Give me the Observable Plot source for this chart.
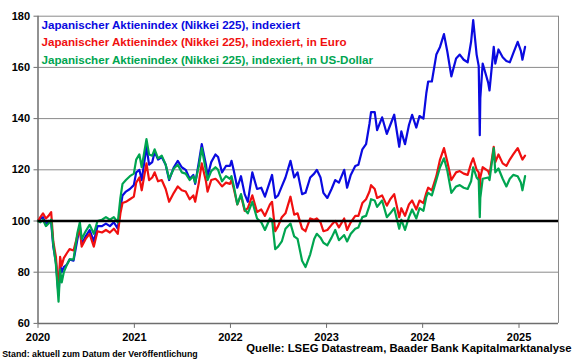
<!DOCTYPE html>
<html>
<head>
<meta charset="utf-8">
<script src="https://cdn.jsdelivr.net/npm/d3@7"></script>
<script src="https://cdn.jsdelivr.net/npm/@observablehq/plot@0.6"></script>
<style>
  html, body { margin: 0; padding: 0; background: #fff; }
</style>
</head>
<body>
<div id="chart"></div>
<script>
// ---- data ----
const dates = [
  "2020-01-01","2020-01-10","2020-01-20","2020-01-31","2020-02-10","2020-02-20","2020-02-28","2020-03-09","2020-03-19","2020-03-25","2020-03-31",
  "2020-04-08","2020-04-20","2020-04-30","2020-05-15","2020-05-29","2020-06-08","2020-06-15","2020-06-30","2020-07-15","2020-07-31",
  "2020-08-14","2020-08-31","2020-09-15","2020-09-30","2020-10-15","2020-10-30","2020-11-09","2020-11-17","2020-11-30","2020-12-15","2020-12-30",
  "2021-01-08","2021-01-20","2021-01-29","2021-02-16","2021-02-26","2021-03-10","2021-03-19","2021-04-01","2021-04-15","2021-04-30",
  "2021-05-13","2021-05-31","2021-06-15","2021-06-30","2021-07-15","2021-07-30","2021-08-13","2021-08-20","2021-09-03","2021-09-14",
  "2021-09-30","2021-10-06","2021-10-20","2021-11-05","2021-11-15","2021-11-30","2021-12-15","2021-12-30",
  "2022-01-05","2022-01-14","2022-01-27","2022-02-10","2022-02-24","2022-03-08","2022-03-25","2022-04-12","2022-04-28","2022-05-12",
  "2022-05-31","2022-06-08","2022-06-20","2022-07-01","2022-07-15","2022-07-29","2022-08-17","2022-08-31","2022-09-13","2022-09-30",
  "2022-10-13","2022-10-31","2022-11-15","2022-11-25","2022-12-09","2022-12-20",
  "2023-01-04","2023-01-20","2023-02-03","2023-02-17","2023-03-09","2023-03-20","2023-04-03","2023-04-20","2023-05-02","2023-05-17",
  "2023-05-31","2023-06-13","2023-06-19","2023-07-03","2023-07-12","2023-07-31","2023-08-18","2023-08-31","2023-09-15","2023-10-04",
  "2023-10-12","2023-10-26","2023-11-10","2023-11-22","2023-12-08","2023-12-20",
  "2024-01-04","2024-01-15","2024-01-22","2024-02-05","2024-02-22","2024-03-07","2024-03-22","2024-04-04","2024-04-19","2024-05-07",
  "2024-05-21","2024-06-05","2024-06-20","2024-07-03","2024-07-11","2024-07-24","2024-08-01","2024-08-05","2024-08-07","2024-08-16",
  "2024-09-06","2024-09-11","2024-09-27","2024-10-03","2024-10-15","2024-10-31","2024-11-14","2024-11-27","2024-12-10","2024-12-27",
  "2025-01-08","2025-01-14","2025-01-24"
];
const nikkeiIndexed = [
  100,101,101.5,98.5,100,99.5,90,84,71,83,80,
  82,83,85,84.5,92.5,98,91,94,96.5,92,
  98,98,99,98,99.5,97,105,110,111.5,112.5,114,
  119,120,116,129,122,123,127,124,125,122,
  116,121,123.5,121,120,116.5,118,114.5,123,130,
  122,117.5,123,126,125,119,121.5,121.5,
  123.5,119.5,113,117.5,110.5,107.5,119,112.5,113,109.5,
  115.5,118,109,110,113.5,117,123.5,117,119,110.5,
  111,117,118.5,120,117,111,
  109,112.5,116,115,120,113,118,121.5,122,128,
  130,138,142.5,142.5,135.5,140.5,134,137.5,141.5,129,
  135,130,137.5,141.5,136.5,141,
  140,150,154.5,154.5,165,168,173,166,156.5,163.5,
  165,163,162,170,178.5,165,160.5,133.5,148,161.5,
  154,151,168,161.5,167,164,162.5,162,165.5,170,
  166.5,163,168
];
const nikkeiEuro = [
  100,101.5,103,101,102,103.5,92,86,72.5,86,82.5,
  85.5,87.5,89,88.5,94,97,90,93,95,90,
  96,95.5,96.5,95.5,97,95,103,107,107.5,108.5,109.5,
  115,117,112,122.5,116,117,119,115.5,116,112.5,
  107.5,111,113.5,112,111.5,108.5,110,107.5,115,122.5,
  115.5,111.5,116,116.5,115.5,113.5,115,114.5,
  116,112.5,106.5,110,104,105,110,103.5,104.5,102,
  106.5,107.5,96,98,101.5,103,109.5,102.5,103,97,
  96,101,100.5,101,99.5,96,
  96.5,98.5,100,97.5,101,96.5,99.5,102,102,107,
  108.5,111.5,114,112.5,109,110,106,108.5,110.5,101.5,
  105,102,106.5,108,104.5,108,
  107,111,113,112,117.5,124,128.5,123,116,119,
  119.5,118.5,118,122.5,124.5,120,119,112,117,121,
  119.5,118,129,123,126,122.5,121.5,124,126,128.5,
  125.5,124,125.5
];
const nikkeiUSD = [
  100,99.5,100.5,98,99,100.5,91,83,68.5,81,76,
  80,83,85,85,95,99.5,93,96,98.5,95,
  100,100.5,101.5,100.5,101.5,99.5,109,114.5,116,117.5,118.5,
  124,126,121,132,126,125.5,128,124.5,125.5,122,
  116.5,120.5,122,119,118.5,116,117.5,115,121.5,128.5,
  119.5,116,119.5,121,120,115.5,117.5,116.5,
  117.5,113.5,106.5,110.5,104.5,103,107.5,101,99.5,96.5,
  101,100.5,89,90,92,97,99,94,93,84.5,
  82,87,93,95,93.5,91.5,
  90.5,93.5,96.5,92.5,94.5,92,95,97,97.5,101.5,
  102,106,108.5,108,105.5,108,101.5,103,105,97,
  100.5,96.5,101.5,104.5,101,105,
  104,109.5,111,110,116,121,124.5,119.5,111,113.5,
  114,113,112.5,115.5,121,117,116,101.5,109,116.5,
  117,116,128.5,119,120.5,116.5,113.5,116.5,118,117.5,
  115,112,117.5
];
const yTicks = [60, 80, 100, 120, 140, 160, 180];
const xTickYears = ["2020", "2021", "2022", "2023", "2024", "2025"];
const gridLevels = [80, 120, 140, 160, 180];
const legendLabels = [
  "Japanischer Aktienindex (Nikkei 225), indexiert",
  "Japanischer Aktienindex (Nikkei 225), indexiert, in Euro",
  "Japanischer Aktienindex (Nikkei 225), indexiert, in US-Dollar"
];
const footerLeft = "Stand: aktuell zum Datum der Veröffentlichung";
const footerRight = "Quelle: LSEG Datastream, Baader Bank Kapitalmarktanalyse";

// ---- build tables ----
const parse = d3.utcParse("%Y-%m-%d");
const rowsJPY = dates.map((d, i) => ({date: parse(d), value: nikkeiIndexed[i]}));
const rowsEUR = dates.map((d, i) => ({date: parse(d), value: nikkeiEuro[i]}));
const rowsUSD = dates.map((d, i) => ({date: parse(d), value: nikkeiUSD[i]}));
const xTicks = xTickYears.map(y => parse(y + "-01-01"));
const xStart = parse("2020-01-01");
const xEnd = parse("2025-05-31");

const BLUE = "#0a0ae0", RED = "#f01010", GREEN = "#00a550";
const FONT = "'Liberation Sans', Arial, Helvetica, sans-serif";

const chart = Plot.plot({
  width: 580,
  height: 359,
  marginLeft: 37.5,
  marginRight: 22,
  marginTop: 15.7,
  marginBottom: 36.1,
  style: {fontFamily: FONT, fontWeight: "bold", color: "#000", background: "#fff"},
  x: {type: "utc", domain: [xStart, xEnd]},
  y: {domain: [60, 180]},
  marks: [
    Plot.ruleY(gridLevels, {stroke: "#8a8a8a", strokeWidth: 1}),
    Plot.ruleX([xEnd], {stroke: "#8a8a8a", strokeWidth: 1}),
    Plot.ruleX([xStart], {stroke: "#6e6e6e", strokeWidth: 1.5}),
    Plot.ruleY([60], {stroke: "#6e6e6e", strokeWidth: 1.5}),
    Plot.axisY({ticks: yTicks, tickSize: 4, tickPadding: 4, tickFormat: d => String(d), label: null,
      stroke: "#6e6e6e", fontSize: 11, fontWeight: "bold", fill: "#000"}),
    Plot.axisX({ticks: xTicks, tickSize: 5, tickPadding: 5, tickFormat: d3.utcFormat("%Y"), label: null,
      stroke: "#6e6e6e", fontSize: 11, fontWeight: "bold", fill: "#000"}),
    Plot.line(rowsJPY, {x: "date", y: "value", stroke: BLUE, strokeWidth: 2.2}),
    Plot.line(rowsEUR, {x: "date", y: "value", stroke: RED, strokeWidth: 2.2}),
    Plot.line(rowsUSD, {x: "date", y: "value", stroke: GREEN, strokeWidth: 2.2}),
    Plot.ruleY([100], {stroke: "#000", strokeWidth: 2.5}),
    Plot.text([legendLabels[0]], {text: d => d, frameAnchor: "top-left", dx: 3.5, dy: 12.5, lineAnchor: "bottom", textAnchor: "start", fill: BLUE, fontSize: 11.6, fontWeight: "bold"}),
    Plot.text([legendLabels[1]], {text: d => d, frameAnchor: "top-left", dx: 3.5, dy: 29.5, lineAnchor: "bottom", textAnchor: "start", fill: RED, fontSize: 11.6, fontWeight: "bold"}),
    Plot.text([legendLabels[2]], {text: d => d, frameAnchor: "top-left", dx: 3.5, dy: 48, lineAnchor: "bottom", textAnchor: "start", fill: GREEN, fontSize: 11.6, fontWeight: "bold"}),
    Plot.text([footerLeft], {text: d => d, frameAnchor: "bottom-left", dx: -35.8, dy: 33.6, lineAnchor: "bottom", textAnchor: "start", fill: "#000", fontSize: 8.8, fontWeight: "bold"}),
    Plot.text([footerRight], {text: d => d, frameAnchor: "bottom-right", dx: 13, dy: 29, lineAnchor: "bottom", textAnchor: "end", fill: "#000", fontSize: 11.3, fontWeight: "bold"})
  ]
});
document.getElementById("chart").appendChild(chart);
</script>
</body>
</html>
